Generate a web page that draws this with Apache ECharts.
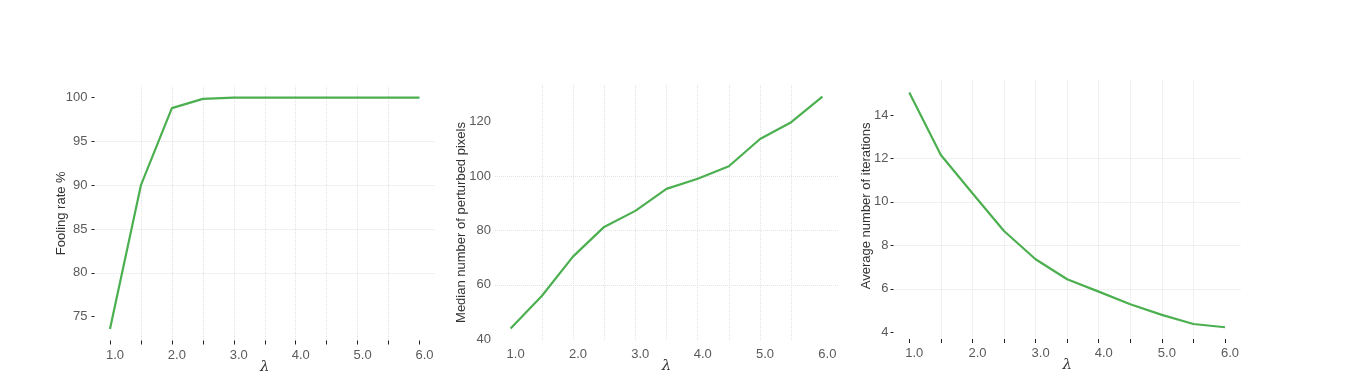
<!DOCTYPE html>
<html>
<head>
<meta charset="utf-8">
<script src="https://cdn.jsdelivr.net/npm/echarts@6/dist/echarts.min.js"></script>
<style>html,body{margin:0;padding:0;background:#fff}#c{width:1348px;height:388px}</style>
</head>
<body>
<div id="c"></div>
<script>
var lambdas = [1.0, 1.5, 2.0, 2.5, 3.0, 3.5, 4.0, 4.5, 5.0, 5.5, 6.0];
var foolingRate = [73.6, 90.0, 98.8, 99.85, 100, 100, 100, 100, 100, 100, 100];
var medianPixels = [44.0, 55.9, 70.4, 81.3, 87.2, 95.3, 99.0, 103.6, 113.6, 119.8, 129.2];
var avgIterations = [15.04, 12.16, 10.40, 8.66, 7.36, 6.44, 5.87, 5.29, 4.80, 4.38, 4.23];
var xTickValues = [1.0, 1.5, 2.0, 2.5, 3.0, 3.5, 4.0, 4.5, 5.0, 5.5, 6.0];
var xLabelValues = [1, 2, 3, 4, 5, 6];
var yTicks1 = [75, 80, 85, 90, 95, 100];
var yTicks2 = [40, 60, 80, 100, 120];
var yTicks3 = [4, 6, 8, 10, 12, 14];
var yTitles = ['Fooling rate %', 'Median number of perturbed pixels', 'Average number of iterations'];

function pad(arr) {
  var lo = Math.min.apply(null, arr), hi = Math.max.apply(null, arr);
  var p = (hi - lo) * 0.05;
  return [lo - p, hi + p];
}
function pairs(vals) { return lambdas.map(function (l, i) { return [l, vals[i]]; }); }

var TXT = '#5a5a5a';
var GRIDC = '#e3e3e3';
var grids = [
  {left: 94.5, right: 1348 - 435, top: 86, bottom: 388 - 340.5},
  {left: 495, right: 1348 - 838, top: 85, bottom: 388 - 340},
  {left: 893.5, right: 1348 - 1240.8, top: 80.7, bottom: 388 - 339}
];
var series = [foolingRate, medianPixels, avgIterations];
var yTicks = [yTicks1, yTicks2, yTicks3];
var showTicks = [true, false, true];
var nameGaps = [26.5, 27, 20.5];
var namePads = [[0, 0, 0, 0], [0, 20, 0, 0], [0, 0, 0, 8]];
var yMargins = [7, 4, 5];

var option = {
  animation: false,
  grid: grids.map(function (g) { return Object.assign({outerBoundsMode: 'none', containLabel: false}, g); }),
  xAxis: grids.map(function (g, i) {
    var xr = [0.75, 6.25];
    return {
      type: 'value', gridIndex: i, min: xr[0], max: xr[1], splitNumber: 11,
      axisLine: {show: false},
      axisTick: {show: showTicks[i], length: 4, customValues: xTickValues, lineStyle: {color: '#222', width: 1}},
      axisLabel: {
        customValues: xLabelValues, margin: 8, color: TXT, fontSize: 13,
        fontFamily: 'Liberation Sans, Arial, sans-serif', padding: [0, 0, 0, 10],
        formatter: function (v) { return v.toFixed(1); }
      },
      splitLine: {show: true, showMinLine: false, showMaxLine: false, lineStyle: {color: GRIDC, type: 'dotted', width: 1}},
      name: 'λ', nameLocation: 'middle', nameGap: 19, nameMoveOverlap: false,
      nameTextStyle: {color: '#333', fontSize: 15, fontStyle: 'italic', fontFamily: 'DejaVu Serif, serif'}
    };
  }),
  yAxis: grids.map(function (g, i) {
    var yr = pad(series[i]);
    return {
      type: 'value', gridIndex: i, min: yr[0], max: yr[1], splitNumber: 5,
      axisLine: {show: false},
      axisTick: {show: showTicks[i], length: 3, customValues: yTicks[i], lineStyle: {color: '#222', width: 1}},
      axisLabel: {
        customValues: yTicks[i], margin: yMargins[i], color: TXT, fontSize: 13,
        fontFamily: 'Liberation Sans, Arial, sans-serif',
        formatter: function (v) { return String(Math.round(v)); }
      },
      splitLine: {show: true, showMinLine: false, showMaxLine: false, lineStyle: {color: GRIDC, type: 'dotted', width: 1}},
      name: yTitles[i], nameLocation: 'middle', nameRotate: 90, nameGap: nameGaps[i], nameMoveOverlap: false,
      nameTextStyle: {color: '#333', fontSize: 13, fontFamily: 'Liberation Sans, Arial, sans-serif', padding: namePads[i]}
    };
  }),
  series: series.map(function (vals, i) {
    return {
      type: 'line', xAxisIndex: i, yAxisIndex: i, data: pairs(vals),
      showSymbol: false, symbol: 'none',
      lineStyle: {color: '#4caf50', width: 2.2}
    };
  })
};
var chart = echarts.init(document.getElementById('c'), null, {renderer: 'canvas'});
chart.setOption(option);
</script>
</body>
</html>
